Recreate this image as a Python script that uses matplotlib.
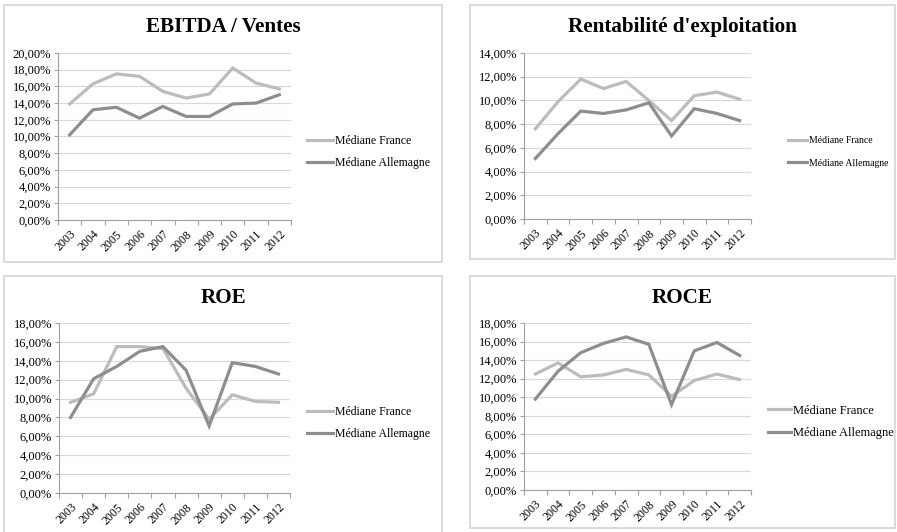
import matplotlib.pyplot as plt
from matplotlib.patches import Rectangle
from matplotlib.ticker import FuncFormatter

# data (values in %)
years = ["2003", "2004", "2005", "2006", "2007", "2008", "2009", "2010", "2011", "2012"]

ebitda_fr = [13.9, 16.3, 17.5, 17.2, 15.4, 14.6, 15.1, 18.2, 16.4, 15.7]
ebitda_de = [10.2, 13.2, 13.5, 12.2, 13.6, 12.4, 12.4, 13.9, 14.0, 15.0]

rentab_fr = [7.6, 9.9, 11.8, 11.0, 11.6, 10.0, 8.3, 10.4, 10.7, 10.1]
rentab_de = [5.1, 7.2, 9.1, 8.9, 9.2, 9.8, 7.0, 9.3, 8.9, 8.3]

roe_fr = [9.6, 10.5, 15.5, 15.5, 15.3, 11.1, 7.8, 10.4, 9.7, 9.6]
roe_de = [8.0, 12.1, 13.4, 15.0, 15.5, 13.0, 7.1, 13.8, 13.4, 12.6]

roce_fr = [12.5, 13.7, 12.2, 12.4, 13.0, 12.4, 10.1, 11.8, 12.5, 11.9]
roce_de = [9.8, 12.8, 14.8, 15.8, 16.5, 15.7, 9.2, 15.0, 15.9, 14.5]

labels = ["Médiane France", "Médiane Allemagne"]
titles = ["EBITDA / Ventes", "Rentabilité d'exploitation", "ROE", "ROCE"]
ymax = [20, 14, 18, 18]

W, H = 897, 532
plt.rcParams['font.family'] = ['Liberation Serif', 'DejaVu Serif']
fig = plt.figure(figsize=(W / 100, H / 100), dpi=100)

def fr(x0, y0, x1, y1):
    # pixel box (top-left origin) -> figure fraction rect
    return [x0 / W, 1 - y1 / H, (x1 - x0) / W, (y1 - y0) / H]

# panel frames, plot areas, title y, legend placement (pixels)
panels = [(4, 5, 442, 262), (470, 5, 895, 259), (4, 276, 442, 540), (470, 276, 895, 528)]
areas = [(58, 53, 291, 220), (524, 53, 751, 219), (59, 323, 290, 493), (524, 323, 751, 490)]
title_y = [27, 27, 298, 298]
leg_pos = [(307, 152), (788, 152), (307, 423), (768, 422)]
leg_size = [8.5, 7.0, 8.5, 9.0]
leg_handle = [2.2, 2.0, 2.2, 1.8]
leg_space = [0.86, 1.4, 0.86, 0.84]
series = [(ebitda_fr, ebitda_de), (rentab_fr, rentab_de), (roe_fr, roe_de), (roce_fr, roce_de)]

c_fr = "#bcbcbc"
c_de = "#8e8e8e"

for i in range(4):
    px0, py0, px1, py1 = panels[i]
    fig.patches.append(Rectangle((px0 / W, 1 - py1 / H), (px1 - px0) / W, (py1 - py0) / H,
                                 transform=fig.transFigure, fill=False,
                                 edgecolor="#d4d4d4", linewidth=1.2))
    fig.text((px0 + px1) / 2 / W, 1 - title_y[i] / H, titles[i], ha="center", va="center",
             fontsize=15.2, fontweight="bold")

    ax = fig.add_axes(fr(*areas[i]))
    fr_vals, de_vals = series[i]
    x = range(len(years))
    ax.plot(x, fr_vals, color=c_fr, linewidth=2.3, label=labels[0], solid_joinstyle="miter")
    ax.plot(x, de_vals, color=c_de, linewidth=2.3, label=labels[1], solid_joinstyle="miter")

    ax.set_xlim(-0.5, len(years) - 0.5)
    ax.set_ylim(0, ymax[i])
    ax.set_yticks(range(0, ymax[i] + 1, 2))
    ax.yaxis.set_major_formatter(FuncFormatter(lambda v, p: f"{v:.2f}".replace(".", ",") + "%"))
    ax.grid(axis="y", color="#d9d9d9", linewidth=0.9)
    ax.set_axisbelow(True)

    ax.set_xticks(list(x))
    ax.set_xticklabels(years, rotation=45, ha="right", va="top", rotation_mode="anchor")
    ax.set_xticks([k - 0.5 for k in range(len(years) + 1)], minor=True)
    ax.tick_params(axis="x", which="major", length=0, pad=6, labelsize=8.5)
    ax.tick_params(axis="x", which="minor", length=3.5, color="#a0a0a0", width=0.8)
    ax.tick_params(axis="y", length=3, color="#a0a0a0", width=0.8, labelsize=9, pad=2)

    for side in ["top", "right"]:
        ax.spines[side].set_visible(False)
    for side in ["left", "bottom"]:
        ax.spines[side].set_color("#a0a0a0")
        ax.spines[side].set_linewidth(0.8)

    lx, ly = leg_pos[i]
    ax.legend(loc="center left", bbox_to_anchor=(lx / W, 1 - ly / H), bbox_transform=fig.transFigure,
              frameon=False, fontsize=leg_size[i], handlelength=leg_handle[i], handletextpad=0.2,
              borderaxespad=0, borderpad=0, labelspacing=leg_space[i])

fig.savefig("out.png", dpi=100)
